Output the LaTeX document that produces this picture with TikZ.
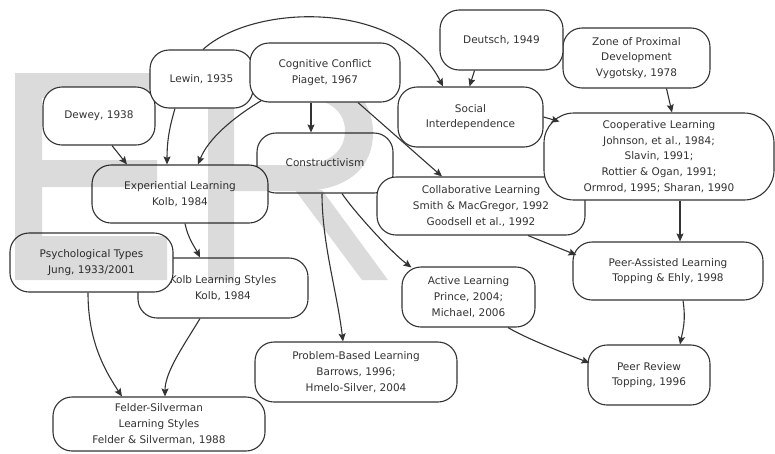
\documentclass[tikz,border=0pt]{standalone}
\usepackage{fontspec}
\setmainfont{DejaVu Sans}
\usetikzlibrary{arrows.meta,calc}
\definecolor{ink}{HTML}{333333}
\tikzset{
  box/.style={draw=ink, line width=1.1pt, fill=white, rounded corners=19pt,
    align=center, inner sep=0pt, text=ink,
    font=\fontsize{10.5}{15.8}\selectfont},
  sz/.style 2 args={minimum width=#1, minimum height=#2},
  conn/.style={draw=ink, line width=1.1pt, -{Stealth[length=8pt,width=7pt,inset=1.5pt]}},
  wm/.style={fill=black, fill opacity=0.14}
}
\begin{document}
\begin{tikzpicture}[x=1pt,y=-1pt]
\useasboundingbox (0,0) rectangle (775,453);
% lower nodes (under the watermark)
\node[box, sz={136pt}{60pt}] (constr) at (325,163) {Constructivism};
\node[box, sz={176pt}{58pt}] (exper) at (180,194) {Experiential Learning\\Kolb, 1984};
\node[box, sz={170pt}{60pt}] (kolbls) at (223,288) {Kolb Learning Styles\\Kolb, 1984};
\node[box, sz={163pt}{59pt}] (psych) at (91.5,262.5) {Psychological Types\\Jung, 1933/2001};
\node[box, sz={212pt}{54pt}] (felder) at (159,424) {Felder-Silverman\\Learning Styles\\Felder \& Silverman, 1988};
\node[box, sz={202pt}{60pt}] (pbl) at (356,372) {Problem-Based Learning\\Barrows, 1996;\\Hmelo-Silver, 2004};
\node[box, sz={133pt}{60pt}] (active) at (468.5,297) {Active Learning\\Prince, 2004;\\Michael, 2006};
\node[box, sz={122pt}{60pt}] (peerrev) at (649,375) {Peer Review\\Topping, 1996};
\node[box, sz={190pt}{58pt}] (peerass) at (668,271) {Peer-Assisted Learning\\Topping \& Ehly, 1998};
\node[box, sz={208pt}{58pt}] (collab) at (481,206) {Collaborative Learning\\Smith \& MacGregor, 1992\\Goodsell et al., 1992};
\node[box, sz={230pt}{87pt}, rounded corners=30pt] (coop) at (659,156.5) {Cooperative Learning\\Johnson, et al., 1984;\\Slavin, 1991;\\Rottier \& Ogan, 1991;\\Ormrod, 1995; Sharan, 1990};
\node[box, sz={145pt}{60pt}] (social) at (470.5,117) {Social\\Interdependence};
\node[box, sz={147pt}{60pt}] (zone) at (636.5,58) {Zone of Proximal\\Development\\Vygotsky, 1978};
\node[box, sz={123pt}{60pt}] (deutsch) at (501.5,40) {Deutsch, 1949};
% watermark
\fill[wm]
  (15,73) rectangle (300,98)
  (15,73) rectangle (42,280)
  (15,160) rectangle (157,187)
  (15,236) rectangle (167,280)
  (208,73) rectangle (234,280)
  (234,73) -- (300,73) .. controls (347,73) and (373,98) .. (373,133)
     .. controls (373,168) and (347,191) .. (300,191) -- (234,191) -- cycle
  (234,98) -- (234,165) -- (300,165) .. controls (330,165) and (345,150) .. (345,131)
     .. controls (345,112) and (330,98) .. (300,98) -- cycle
  (295,190) -- (322,190) -- (388,280) -- (362,280) -- cycle;
% upper nodes (over the watermark)
\node[box, sz={112pt}{58pt}] (dewey) at (99,116) {Dewey, 1938};
\node[box, sz={103pt}{58pt}] (lewin) at (201.5,79) {Lewin, 1935};
\node[box, sz={150pt}{59pt}] (cog) at (325,72.5) {Cognitive Conflict\\Piaget, 1967};
% connectors
\draw[conn] ($(dewey.south)+(13,0)$) -- ($(exper.north)+(-53,0)$);
\draw[conn] ($(lewin.south)+(-26.5,0)$) .. controls +(-6,20) and +(0,-22) .. ($(exper.north)+(-13,0)$);
\draw[conn] ($(cog.south west)+(12,-2)$) .. controls +(-30,18) and +(10,-25) .. ($(exper.north)+(18,0)$);
\draw[conn] ($(cog.south)+(-14,0)$) -- ($(constr.north)+(-14,0)$);
\draw[conn] ($(lewin.north)+(1.5,0)$) .. controls +(52,-47) and +(-43,-86) .. ($(social.north)+(-27.5,0)$);
\draw[conn] ($(deutsch.south)+(-27,0)$) -- ($(social.north)+(-1,0)$);
\draw[conn] ($(cog.south)+(33,0)$) -- ($(collab.north)+(-39,0)$);
\draw[conn] (social.east) -- ($(coop.west)+(16,-35)$);
\draw[conn] ($(zone.south)+(30,0)$) -- ($(coop.north)+(13,0)$);
\draw[conn] ($(coop.south)+(21,0)$) -- ($(peerass.north)+(12,0)$);
\draw[conn] ($(collab.south)+(47,0)$) .. controls +(15,6) and +(-15,-6) .. ($(peerass.west)+(4,-16)$);
\draw[conn] ($(constr.south)+(17,0)$) .. controls +(12,18) and +(-20,-15) .. ($(active.north west)+(10,1)$);
\draw[conn] ($(constr.south)+(-3,0)$) .. controls +(0,50) and +(-6,-50) .. ($(pbl.north)+(-13,0)$);
\draw[conn] ($(exper.south)+(5,0)$) .. controls +(3,15) and +(-5,-10) .. ($(kolbls.north)+(-23,0)$);
\draw[conn] ($(psych.south)+(-3.5,0)$) .. controls +(0,45) and +(-20,-30) .. ($(felder.north)+(-37,0)$);
\draw[conn] ($(kolbls.south)+(-23,0)$) .. controls +(-15,25) and +(0,-25) .. ($(felder.north)+(6,0)$);
\draw[conn] ($(active.south)+(39.5,0)$) .. controls +(20,12) and +(-20,-8) .. ($(peerrev.west)+(2,-12)$);
\draw[conn] ($(peerass.south)+(15,0)$) .. controls +(3,20) and +(3,-15) .. ($(peerrev.north)+(31,0)$);
\end{tikzpicture}
\end{document}
